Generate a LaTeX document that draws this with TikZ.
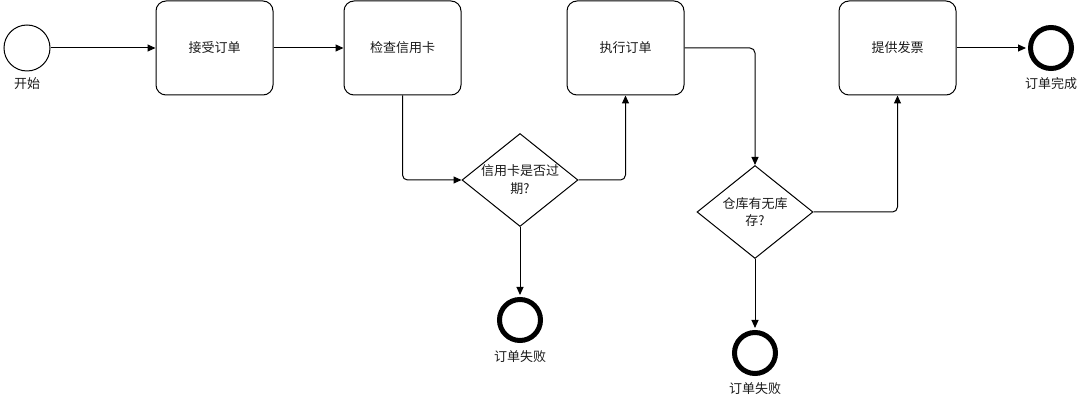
\documentclass[tikz,border=0pt]{standalone}
\usepackage{fontspec}
\setmainfont{Noto Sans CJK SC}
\usetikzlibrary{shapes.geometric,arrows.meta}
\definecolor{txt}{HTML}{1A1A1A}
\begin{document}
\begin{tikzpicture}[x=1pt,y=-1pt,
  task/.style={draw, rounded corners=10pt, minimum width=117pt, minimum height=94pt, inner sep=0pt, font=\fontsize{13}{16}\selectfont, text=txt, line width=1pt},
  gate/.style={draw, diamond, minimum width=116pt, minimum height=93pt, inner sep=0pt, line width=1pt},
  startev/.style={draw, circle, minimum size=46pt, inner sep=0pt, line width=1pt},
  endev/.style={draw, circle, minimum size=41pt, inner sep=0pt, line width=5pt},
  flow/.style={-{Triangle[length=8pt,width=7pt]}, line width=1pt, rounded corners=5pt},
  lbl/.style={font=\fontsize{13}{17}\selectfont, text=txt, inner sep=0pt, align=center}
]
\useasboundingbox (0,0) rectangle (1087,403);

\node[startev] (s) at (27,48) {};
\node[lbl] (sl) at (27,84) {开始};
\node[task] (t1) at (214.5,48) {接受订单};
\node[task] (t2) at (402.5,48) {检查信用卡};
\node[task] (t3) at (625.5,48) {执行订单};
\node[task] (t4) at (897.5,48) {提供发票};
\node[endev] (e3) at (1051,48) {};
\node[lbl] (e3l) at (1051,84) {订单完成};

\node[gate] (g1) at (520,180) {};
\node[lbl, font=\fontsize{13}{18}\selectfont] (g1l) at (520,180) {信用卡是否过\\期?};
\node[endev] (e1) at (520,320) {};
\node[lbl] (e1l) at (520,357) {订单失败};

\node[gate] (g2) at (755,212) {};
\node[lbl, font=\fontsize{13}{17}\selectfont] (g2l) at (755,212) {仓库有无库\\存?};
\node[endev] (e2) at (755,353) {};
\node[lbl] (e2l) at (755,389) {订单失败};

\draw[flow] (s) -- (t1);
\draw[flow] (t1) -- (t2);
\draw[flow] (t2.south) |- (g1.west);
\draw[flow] (g1.east) -| (t3.south);
\draw[flow, shorten >=2pt] (g1.south) -- (e1.north);
\draw[flow] (t3.east) -| (g2.north);
\draw[flow] (g2.east) -| (t4.south);
\draw[flow, shorten >=2pt] (g2.south) -- (e2.north);
\draw[flow, shorten >=2pt] (t4.east) -- (e3.west);
\end{tikzpicture}
\end{document}
